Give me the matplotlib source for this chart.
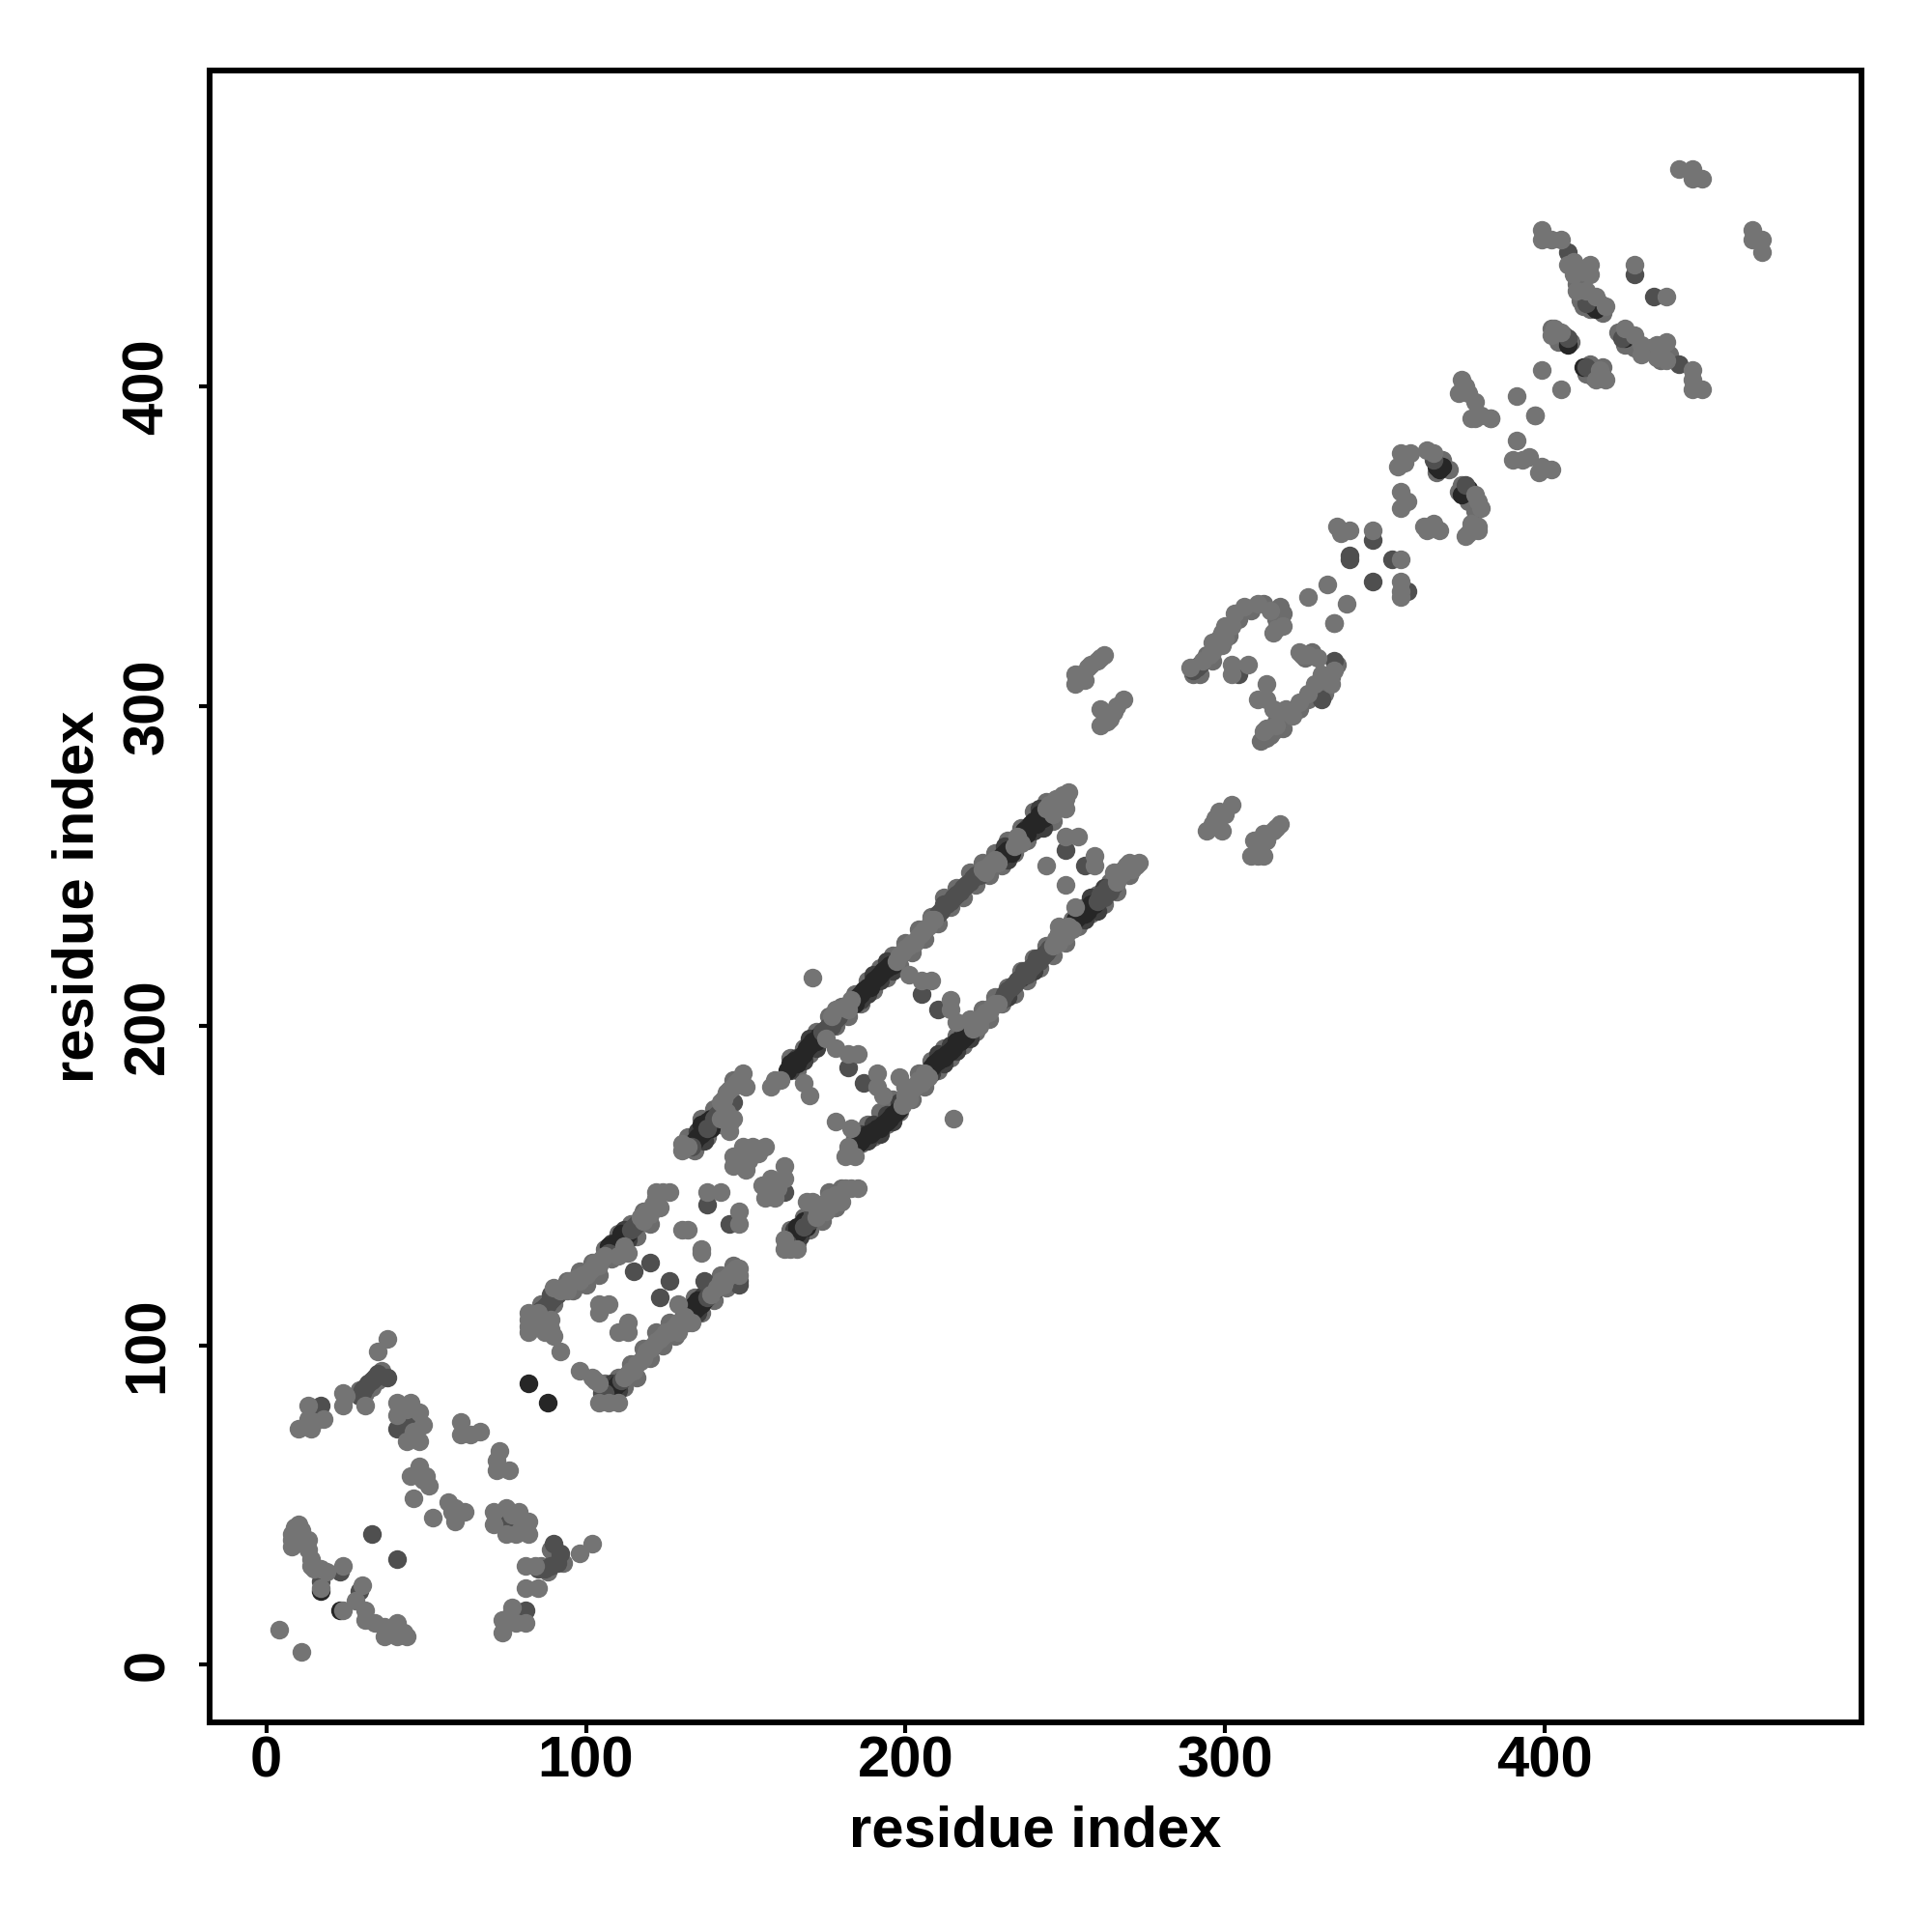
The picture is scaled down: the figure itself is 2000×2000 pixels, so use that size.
import numpy as np
import matplotlib
matplotlib.use("Agg")
import matplotlib.pyplot as plt

plt.rcParams['font.family'] = ['Liberation Sans', 'DejaVu Sans']

tick_values = [0, 100, 200, 300, 400]
axis_title = "residue index"

gray_points = [
 (4,11),(11,4),(8,37),(8,39),(8,41),(9,43),(10,44),(11,42),(13,39),(13,36),(14,33),(14,31),(15,30),(17,30),(19,29),(24,31),(17,24),(30,25),(24,17),(28,20),(31,17),(31,14),(34,13),(37,12),(37,9),(41,13),(41,9),(44,9),(43,10),
 (10,74),(14,74),(13,77),(13,81),(18,77),(15,76),(24,85),(24,81),(25,84),(31,81),(35,98),(38,102),
 (41,82),(45,82),(48,79),(49,75),(48,70),(44,70),(41,78),(44,80),(46,73),(48,62),(45,59),(49,58),(51,56),(46,52),(50,59),(52,46),(57,51),(59,49),(62,48),(59,45),(58,48),
 (61,76),(61,72),(64,72),(67,73),(73,67),(72,64),(72,61),(76,61),(71,48),(71,44),(75,49),(79,48),(82,45),(82,41),(78,41),(75,41),(77,47),(80,43),
 (102,38),(98,35),(85,24),(81,24),(81,31),(84,31),(77,18),(81,13),(78,13),(74,14),(74,10),(76,15),
 (82,104),(82,106),(82,108),(82,110),(84,109),(85,110),(87,104),(89,105),(90,103),(92,98),(87,107),(89,108),
 (90,118),(92,117),(93,118),(94,117),(95,120),(96,120),(97,121),(98,120),(99,122),(100,122),(101,123),(102,124),(103,126),(104,125),(105,127),(106,128),(113,129),(110,128),(112,131),
 (117,140),(118,139),(119,142),(120,141),(121,144),(122,146),(123,143),(122,148),(124,148),(126,148),
 (104,113),(107,113),(104,110),(110,104),(113,107),(113,104),(130,136),(132,136),(136,129),(136,130),(138,148),(142,148),(148,142),(148,138),
 (98,92),(102,90),(103,89),(104,88),(104,82),(107,82),(110,82),(112,90),(113,91),(114,92),(115,92),(116,94),(117,95),(118,96),(119,98),(120,99),(121,100),(122,101),(123,102),(124,103),(125,104),(126,104),(127,105),(128,106),(129,107),(131,109),(129,113),(133,107),(129,104),
 (139,116),(141,118),(142,120),(143,119),(144,121),(145,122),(146,123),(147,124),(148,124),(148,122),
 (130,161),(130,163),(132,162),(142,176),(143,177),(144,179),(145,180),(146,181),(147,182),(148,183),(149,185),(150,181),(145,169),(145,167),(146,171),(144,173),(142,171),
 (149,162),(152,162),(156,162),(146,159),(146,156),(150,155),(151,158),(149,160),(154,160),(162,156),(162,152),(155,150),(156,146),(159,146),(158,152),(160,149),
 (162,130),(164,130),(166,130),(162,133),(172,140),(173,143),(174,144),(175,142),(176,146),(177,144),(178,147),(179,146),(180,145),(181,149),(183,149),(185,149),(169,145),(171,145),(172,143),
 (158,181),(159,183),(161,183),(170,178),(168,182),(178,193),(182,191),(185,191),(175,196),(177,203),(178,205),(181,206),(182,205),(183,208),
 (171,215),(191,185),(191,181),(193,178),(178,170),(183,168),(181,159),(184,159),(182,162),(215,171),(201,216),(205,214),(208,214),(214,208),(214,205),(216,201),
 (197,220),(198,222),(199,223),(200,224),(201,225),(202,226),(203,226),(204,228),(205,229),(206,230),(207,231),(208,233),(209,233),
 (224,249),(225,248),(226,250),(227,251),(228,252),(229,251),(234,256),(235,259),(236,257),
 (244,268),(245,269),(246,268),(247,271),(248,270),(249,272),(250,271),(251,273),(250,268),(246,266),(250,259),(254,259),(244,250),(250,244),(259,253),(259,250),(253,237),
 (199,175),(200,178),(201,177),(202,180),(203,181),(204,183),(205,182),(206,185),(207,184),(200,181),(198,184),
 (221,199),(222,201),(223,200),(224,203),(225,204),(226,204),(227,206),(228,207),(229,207),(220,202),
 (246,225),(247,227),(248,226),(249,229),(250,228),(251,231),(252,230),(248,231),(266,245),(267,247),(268,248),(269,250),(270,251),(271,249),(272,250),(273,251),(265,248),
 (262,316),(260,314),(261,315),(257,312),(258,313),(255,310),(253,310),(253,307),(256,308),(254,309),(268,302),(266,300),(261,299),(264,296),(261,294),(263,295),(265,298),
 (302,269),(300,266),(297,265),(294,261),(299,261),(296,263),(298,267),(317,263),(315,261),(312,260),(309,258),(308,253),(310,253),(312,253),(316,262),(313,258),(311,256),
 (289,312),(293,314),(295,316),(296,320),(299,319),(299,323),(302,325),(303,329),(296,317),(300,321),(307,313),(302,313),(302,310),(310,332),(314,330),(306,331),(300,325),(316,324),(315,323),(318,325),(313,307),(310,302),(313,302),(334,326),
 (324,316),(323,317),(329,315),(326,316),(334,311),(330,310),(333,307),(326,304),(323,301),(321,297),(317,298),(315,299),(316,294),(313,293),(312,292),(319,299),(328,307),
 (326,334),(332,338),(338,332),(334,326),(335,356),(336,354),(339,355),(346,355),(355,346),(355,339),(355,334),(355,336),
 (355,379),(354,375),(358,379),(363,380),(365,379),(355,367),(355,362),(357,364),(356,376),(379,364),(378,366),(380,362),(362,356),(367,355),(363,355),(365,357),(379,356),(376,354),(375,353),(379,355),(377,357),
 (383,390),(378,390),(380,391),(391,383),(390,377),(395,378),(399,375),(402,374),(398,373),(393,377),(397,391),
 (442,468),(446,468),(446,465),(449,465),(465,449),(465,446),(468,446),(468,442),
 (399,449),(399,446),(402,446),(405,446),(407,438),(409,439),(414,438),(409,435),(414,435),(412,436),(410,430),(413,430),(416,428),(419,425),(428,438),(438,428),
 (403,418),(402,416),(405,417),(417,405),(416,402),(419,402),(418,403),(425,418),(428,416),(430,413),(430,410),(435,413),(438,414),(435,409),(438,408),(446,405),(446,402),(446,399),(449,399),(436,411),
 (399,405),(405,399),(391,397),(397,391),(374,402),(373,398),(376,398),(378,395),(377,390),(383,390),(379,391),(375,400),
]

mid_points = [
 (23,29),(17,26),(29,23),(33,41),(41,33),(17,81),(29,84),(30,86),(31,87),(32,88),(33,89),(34,90),(35,91),(38,90),(30,85),(41,74),(44,74),(45,77),(75,44),(78,44),(90,38),(92,35),(91,32),(89,31),(87,30),(85,30),(81,17),
 (86,111),(87,112),(88,113),(89,114),(90,115),(89,116),(91,116),(107,129),(114,136),(115,137),(116,138),(115,123),(120,126),(123,115),(126,120),(138,144),(145,138),
 (105,85),(106,85),(111,89),(130,108),(138,115),(140,117),(148,120),(148,119),(137,120),(133,162),(138,168),(140,171),(141,172),(146,176),
 (162,148),(163,132),(168,137),(170,139),(171,141),(174,198),(175,199),(176,200),(177,200),(178,202),(179,203),(182,187),(187,182),(205,210),(210,205),
 (210,235),(211,236),(212,238),(213,238),(214,239),(215,240),(216,241),(217,242),(218,243),(219,244),(220,245),(221,246),(222,247),(223,247),
 (230,208),(231,210),(232,211),(233,212),(234,213),(235,214),(237,217),(238,216),(239,218),(240,219),(241,221),(242,220),(243,222),(244,223),(245,224),
 (260,239),(261,241),(262,240),(263,243),(264,242),(265,244),(256,250),(250,255),
 (291,312),(290,311),(292,313),(334,314),(330,302),(304,310),(346,352),(339,346),(352,346),(346,339),(357,336),(339,347),
 (365,377),(407,442),(428,435),(434,428),(442,407),(407,415),(424,415),(413,426),(413,406),(375,369),
]

dark_points = [
 (82,88),(88,82),(17,23),(23,17),
 (107,131),(108,130),(109,132),(110,132),(111,133),(112,134),(113,135),(111,135),
 (107,85),(108,86),(109,87),(110,88),(132,110),(133,110),(134,111),(135,112),(136,113),(137,114),(135,114),(134,113),
 (134,164),(135,165),(136,166),(137,167),(139,168),(138,170),(136,169),(139,171),
 (164,133),(165,134),(166,135),(167,136),(169,137),(166,137),(168,139),
 (163,186),(164,188),(165,189),(166,188),(167,190),(168,191),(169,193),(170,194),(171,195),(172,195),(173,197),
 (184,207),(185,209),(186,210),(187,211),(188,212),(189,212),(190,214),(191,215),(192,216),(193,217),(194,218),(195,219),(196,219),
 (230,253),(231,254),(232,255),(233,254),(237,261),(238,260),(239,263),(240,264),(241,263),(242,266),(243,265),
 (184,162),(185,163),(186,164),(187,165),(188,166),(189,166),(190,167),(191,168),(192,168),(193,169),(194,170),(195,171),(196,172),(197,173),(198,174),
 (208,187),(209,188),(210,189),(211,190),(212,190),(213,191),(214,192),(215,193),(216,195),(217,195),(218,196),(219,197),
 (253,233),(254,234),(255,235),(256,235),(257,236),(258,238),(259,238),
 (368,375),(367,374),(366,375),(375,367),(374,366),(376,368),(416,424),(415,425),(407,413),(425,415),(412,406),
]

shade_points = [
 (164,186),(166,190),(168,189),(170,196),(172,193),(186,208),(188,210),(190,216),(192,214),(194,220),(196,217),(238,262),(240,261),(242,268),(243,262),(231,256),(232,252),
 (186,166),(188,164),(190,169),(192,166),(194,172),(196,170),(198,176),(208,185),(210,191),(212,188),(214,194),(216,192),(218,198),(220,196),(254,236),(256,233),(258,240),(260,236),(262,243),(232,209),(236,215),(240,217),
 (108,132),(110,130),(112,136),(113,133),(133,112),(135,110),(137,116),(136,115),(108,88),(110,86),
 (135,167),(137,164),(139,170),(165,136),(167,134),(169,139),
]

edge_points = [
 (164,190),(166,186),(168,193),(170,191),(172,198),(174,196),(176,203),(178,200),(180,206),(182,203),(184,210),(186,207),(188,214),(190,211),(192,218),(194,215),(196,222),(198,219),(200,226),(202,223),(204,230),(206,227),(208,234),(210,232),(212,240),(214,237),(216,243),(218,240),(220,248),(222,244),(224,251),(226,247),(228,254),(230,250),(232,258),(234,254),(236,262),(238,258),(240,267),(242,262),(244,270),(246,264),
 (184,165),(186,163),(188,169),(190,165),(192,173),(194,169),(196,177),(198,173),(200,181),(202,177),(204,185),(206,181),(208,189),(210,186),(212,193),(214,190),(216,197),(218,194),(220,201),(222,198),(224,205),(226,202),(228,209),(230,207),(232,212),(234,210),(236,217),(238,214),(240,221),(242,218),(244,225),(246,222),(248,229),(250,226),(252,233),(254,231),(256,237),(258,235),(260,241),(262,238),(264,245),(266,242),(268,249),(270,247),
 (86,113),(88,110),(90,113),(94,120),(96,117),(98,123),(100,119),(102,126),(104,122),(106,130),(108,127),(110,135),(112,130),(114,138),(116,134),(118,142),(120,138),(122,143),
 (106,88),(108,84),(110,90),(112,87),(114,94),(116,90),(118,99),(120,96),(122,104),(124,100),(126,107),(128,103),(130,112),(132,107),(134,115),(136,110),(138,118),(140,114),(142,122),(144,118),(146,125),
 (132,165),(134,161),(136,171),(138,165),(140,174),(142,169),(144,176),(146,183),
 (164,136),(166,132),(168,140),(170,136),(172,143),(174,139),(176,148),(178,143),(180,149),
 (29,86),(31,85),(33,87),(35,89),(36,92),(86,31),(88,29),(90,35),(93,32),(89,36),
 (290,310),(292,310),(294,316),(296,314),(298,321),(301,322),(304,327),(308,330),(312,332),(317,331),(316,327),(318,329),
 (316,295),(318,293),(320,298),(323,299),(326,302),(329,305),(331,304),(333,309),(335,313),(325,315),(327,317),(311,289),(313,290),(314,291),(315,292),
 (402,418),(404,414),(406,416),(408,414),(411,427),(412,425),(414,424),(417,426),(418,423),(410,432),(411,434),
 (423,417),(425,413),(426,415),(428,412),(431,411),(433,412),(436,408),(439,410),(413,404),(415,403),(414,407),(418,406),
 (368,377),(370,374),(366,373),(374,369),(373,367),(376,364),(378,361),
]

def split(points):
    arr = np.array(points, dtype=float)
    return arr[:, 0], arr[:, 1]

fig = plt.figure(figsize=(20, 20), dpi=100)
ax = fig.add_axes([217/2000, 1 - 1783/2000, (1927-217)/2000, (1783-73)/2000])

for pts, col, z in ((edge_points, '#6c6c6c', 1.5), (shade_points, '#3f3f3f', 1.8),
                    (dark_points, '#262626', 2), (mid_points, '#4f4f4f', 3),
                    (gray_points, '#747474', 4)):
    x, y = split(pts)
    ax.scatter(x, y, s=195, c=col, linewidths=0, zorder=z)

ax.set_xlim(-17.7, 499)
ax.set_ylim(-18, 498.8)
ax.set_xticks(tick_values)
ax.set_yticks(tick_values)
ax.tick_params(axis='x', length=8, width=3, labelsize=43, pad=2)
ax.tick_params(axis='y', length=8, width=3, labelsize=43, pad=18)
for lab in ax.get_xticklabels():
    lab.set_fontweight('bold')
for lab in ax.get_yticklabels():
    lab.set_fontweight('bold')
    lab.set_rotation(90)
    lab.set_va('center')
for s in ax.spines.values():
    s.set_linewidth(4.3)
ax.set_xlabel(axis_title, fontsize=43, fontweight='bold')
ax.set_ylabel(axis_title, fontsize=43, fontweight='bold')
ax.xaxis.set_label_coords(0.5, -0.05)
ax.yaxis.set_label_coords(-0.0636, 0.5)

fig.savefig("out.png", dpi=100)
